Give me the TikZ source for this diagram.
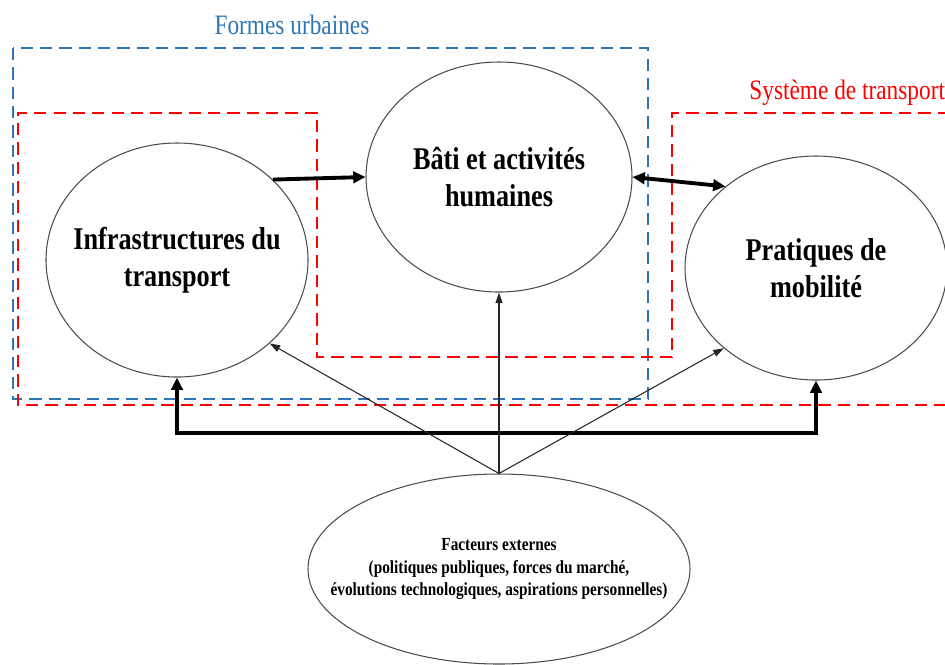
\documentclass[tikz,border=0pt]{standalone}
\usepackage{fontspec}
\setmainfont{Liberation Serif}[FakeStretch=0.83]
\usetikzlibrary{shapes.geometric,arrows.meta}
\definecolor{formblue}{RGB}{46,117,182}

\begin{document}
\begin{tikzpicture}[x=0.02cm,y=-0.02cm,
						bubble/.style={ellipse, draw=black!70, fill=white, line width=0.6pt, align=center, inner xsep=-25pt, inner ysep=0pt, font=\fontsize{18}{21}\selectfont\bfseries},
						bluebox/.style={draw=formblue, line width=1.5pt, dash pattern=on 7pt off 4pt},
						redbox/.style={draw=red, line width=1.5pt, dash pattern=on 7pt off 4pt},
						bigarrow/.style={line width=2.2pt, -{Triangle[length=7pt,width=6.5pt]}},
						thinarrow/.style={black!85, line width=0.6pt, -{Triangle[length=6pt,width=4pt]}},
						]
						\useasboundingbox (0,0) rectangle (945,664);
						%Frames
						\draw[bluebox] (13,48) rectangle (648,399);
						\draw[redbox] (950,113) -- (672,113) -- (672,357) -- (317,357) -- (317,113) -- (18,113) -- (18,405) -- (950,405);
						\node[text=formblue, font=\fontsize{16}{19}\selectfont] (forms) at (292,25) {Formes urbaines};
						\node[text=red, font=\fontsize{16}{19}\selectfont, anchor=west, inner sep=0pt] (systeme) at (749,93) {Système de transport};
						%Nodes
						\node[bubble, minimum width=262*0.02cm, minimum height=234*0.02cm] (infra) at (177,260) {Infrastructures du\\transport};
						\node[bubble, minimum width=266*0.02cm, minimum height=230*0.02cm] (bati)  at (499,177) {Bâti et activités\\humaines};
						\node[bubble, minimum width=262*0.02cm, minimum height=224*0.02cm] (prat)  at (816,268) {Pratiques de\\mobilité};
						\node[bubble, minimum width=382*0.02cm, minimum height=190*0.02cm, font=\fontsize{10.5}{12.8}\selectfont\bfseries] (ext) at (499,569) {Facteurs externes\\(politiques publiques, forces du marché,\\évolutions technologiques, aspirations personnelles)};
						\coordinate (base) at (499,433);
						
						%Arrows
						\draw[bigarrow] (infra.40) -- (bati.west);
						\draw[bigarrow, {Triangle[length=7pt,width=6.5pt]}-{Triangle[length=7pt,width=6.5pt]}] (bati.east) -- (prat.138);
						\draw[bigarrow, {Triangle[length=7pt,width=6.5pt]}-{Triangle[length=7pt,width=6.5pt]}] (infra.south) |- (base) -| (prat.south);
						\draw[thinarrow] (ext.north) -- (infra.-42);
						\draw[thinarrow] (ext.north) -- (bati.south);
						\draw[thinarrow] (ext.north) -- (prat.-139);
					\end{tikzpicture}
\end{document}
